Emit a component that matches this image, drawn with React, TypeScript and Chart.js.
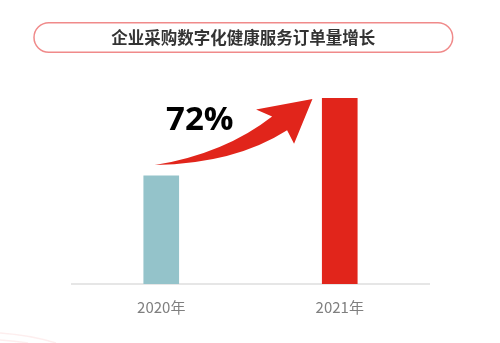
import React, { useEffect, useRef } from "react";
import { Chart, registerables } from "chart.js";

Chart.register(...registerables);

const categories = ["2020年", "2021年"];
const orderValues = [100, 172];
const barColors = ["#94c3ca", "#e1251b"];
const titleText = "企业采购数字化健康服务订单量增长";

// arrow outline in coordinates relative to the two bar tops (u along x, v along y)
const arrowShape = {
  tail: [-0.0365, 0.138],
  c1: [0.357, 0.289],
  n1: [0.621, 0.763],
  b1: [0.531, 0.851],
  tip: [0.847, 0.987],
  b2: [0.744, 0.412],
  n2: [0.705, 0.586],
  c2: [0.413, 0.158],
};

const decorPlugin = {
  id: "decor",
  afterDraw(chart: any) {
    const ctx = chart.ctx;
    const xs = chart.scales.x;
    const ys = chart.scales.y;
    const ax = xs.getPixelForValue(0);
    const ay = ys.getPixelForValue(orderValues[0]);
    const bx = xs.getPixelForValue(1);
    const by = ys.getPixelForValue(orderValues[1]);
    const dx = bx - ax;
    const dy = by - ay;
    const P = (k: keyof typeof arrowShape) => {
      const [u, v] = arrowShape[k];
      return [ax + u * dx, ay + v * dy];
    };
    ctx.save();
    // faint corner decoration
    ctx.strokeStyle = "rgba(240,140,140,0.15)";
    ctx.lineWidth = 1.5;
    ctx.beginPath();
    ctx.moveTo(0, 333);
    ctx.quadraticCurveTo(30, 335, 56, 343);
    ctx.stroke();
    ctx.beginPath();
    ctx.moveTo(0, 340);
    ctx.quadraticCurveTo(15, 341, 28, 343);
    ctx.stroke();

    // title pill
    const pl = 34, pr = 452.7, pt = 22.7, pb = 52.3;
    const r = (pb - pt) / 2;
    ctx.beginPath();
    ctx.moveTo(pl + r, pt);
    ctx.lineTo(pr - r, pt);
    ctx.arc(pr - r, pt + r, r, -Math.PI / 2, Math.PI / 2);
    ctx.lineTo(pl + r, pb);
    ctx.arc(pl + r, pt + r, r, Math.PI / 2, (3 * Math.PI) / 2);
    ctx.closePath();
    ctx.strokeStyle = "#f08a8a";
    ctx.lineWidth = 1.5;
    ctx.stroke();
    ctx.fillStyle = "#333333";
    ctx.font = "bold 16.5px 'Noto Sans CJK SC', sans-serif";
    ctx.textAlign = "center";
    ctx.textBaseline = "middle";
    ctx.fillText(titleText, (pl + pr) / 2, (pt + pb) / 2);

    // arrow
    const t = P("tail"), c1 = P("c1"), n1 = P("n1"), b1 = P("b1"), tip = P("tip"), b2 = P("b2"), n2 = P("n2"), c2 = P("c2");
    ctx.beginPath();
    ctx.moveTo(t[0], t[1]);
    ctx.quadraticCurveTo(c1[0], c1[1], n1[0], n1[1]);
    ctx.lineTo(b1[0], b1[1]);
    ctx.lineTo(tip[0], tip[1]);
    ctx.lineTo(b2[0], b2[1]);
    ctx.lineTo(n2[0], n2[1]);
    ctx.quadraticCurveTo(c2[0], c2[1], t[0], t[1]);
    ctx.closePath();
    ctx.fillStyle = barColors[1];
    ctx.fill();

    // growth label
    const growth = Math.round(((orderValues[1] - orderValues[0]) / orderValues[0]) * 100) + "%";
    ctx.fillStyle = "#000000";
    ctx.font = "bold 33px 'Open Sans', sans-serif";
    ctx.textAlign = "center";
    ctx.textBaseline = "alphabetic";
    ctx.fillText(growth, ax + 0.216 * dx, ay + 0.592 * dy);
    ctx.restore();
  },
};

export default function App() {
  const ref = useRef<HTMLCanvasElement>(null);
  useEffect(() => {
    if (!ref.current) return;
    const chart = new Chart(ref.current, {
      type: "bar",
      data: {
        labels: categories,
        datasets: [
          {
            data: orderValues,
            backgroundColor: barColors,
            barThickness: 35,
            borderWidth: 0,
          },
        ],
      },
      options: {
        responsive: false,
        animation: false,
        layout: { padding: { top: 98, left: 72, right: 71, bottom: 13 } },
        plugins: { legend: { display: false }, tooltip: { enabled: false }, title: { display: false } },
        scales: {
          x: {
            grid: { display: false, drawTicks: false },
            border: { display: true, color: "#e6e6e6", width: 2 },
            ticks: {
              color: "#7f7f7f",
              padding: 14,
              font: { size: 15, family: "'Noto Sans CJK SC', sans-serif" },
            },
          },
          y: { display: false, min: 0, max: 172 },
        },
      },
      plugins: [decorPlugin],
    });
    return () => chart.destroy();
  }, []);
  return (
    <div style={{ position: "fixed", left: 0, top: 0, width: 500, height: 343, background: "#fff" }}>
      <canvas ref={ref} width={500} height={343} />
    </div>
  );
}
